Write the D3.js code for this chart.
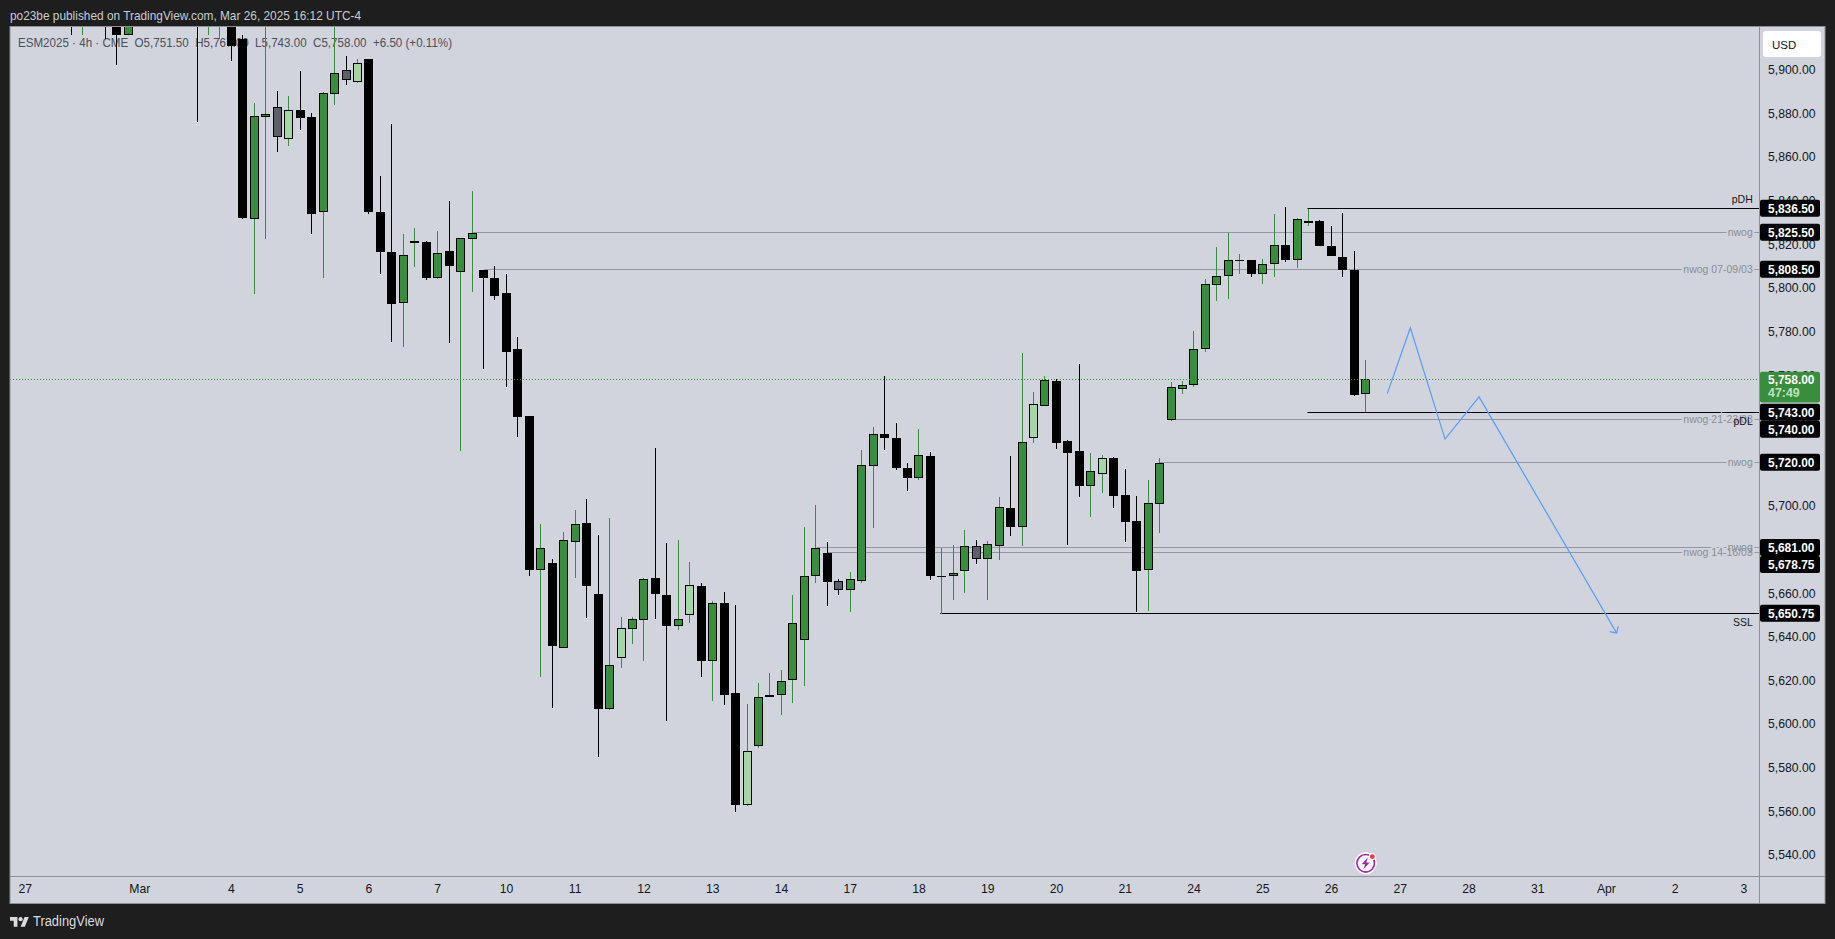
<!DOCTYPE html>
<html>
<head>
<meta charset="utf-8">
<script src="https://cdn.jsdelivr.net/npm/d3@7/dist/d3.min.js"></script>
<style>
html,body{margin:0;padding:0;background:#1e1e1e;overflow:hidden}
svg{display:block}
text{font-family:"Liberation Sans",Arial,sans-serif}
</style>
</head>
<body>
<svg id="c" width="1835" height="939"></svg>
<script>
// ---------- chart values ----------
const title = "po23be published on TradingView.com, Mar 26, 2025 16:12 UTC-4";
const legendText = "ESM2025 · 4h · CME  O5,751.50  H5,767.00  L5,743.00  C5,758.00  +6.50 (+0.11%)";
const currency = "USD";
const brand = "TradingView";
const countdown = "47:49";

// bars that reach into the top of the view (their bodies are estimated, only low ends can be seen)
const earlySlots  = [-15,-14,-12,-11,-10,-4,-3,-2,-1];
const earlyTones  = ["D","U","D","D","U","D","U","U","D"];
const earlyOpens  = [5950,5930,5940,5935,5915.75,5950,5935,5930,5935];
const earlyHighs  = [5960,5950,5945,5945,5945,5960,5955,5950,5940];
const earlyLows   = [5915.75,5916,5914.25,5902.25,5915.75,5876.25,5915.75,5914.25,5904.25];
const earlyCloses = [5935,5945,5925,5916,5930,5935,5950,5945,5910.75];

// D black, U green, L light green, G grey
const tones = [
"D","U","U","G","L","D","D","U","U","G",
"L","D","D","D","U","U","D","U","D","U",
"U","D","D","D","D","D","U","D","U","U",
"D","D","U","L","U","U","D","D","U","L",
"D","U","D","D","L","U","U","U","U","U",
"U","D","G","U","U","U","D","D","D","U",
"D","U","U","U","G","U","U","D","U","L",
"U","D","D","D","U","L","D","D","D","U",
"U","U","U","U","U","U","U","U","D","U",
"U","D","U","U","D","D","D","D","U"];
const opens = [
5914.25,5831.75,5878.25,5883,5868.25,5881.75,5878.25,5835,5888.75,5899.75,
5894.5,5905,5835,5816.5,5793.25,5820.5,5821,5804.75,5816.75,5807.5,
5822.25,5808.25,5804.5,5797.75,5772,5741.25,5670.5,5673.75,5635,5683.25,
5692.25,5659.75,5607,5630.5,5643.75,5647.5,5667,5659.25,5644.75,5650,
5663.5,5628.75,5655.5,5614.25,5562.75,5590,5612.25,5613.25,5620.25,5638.75,
5668,5678.5,5665.5,5661.25,5665.75,5718.5,5733,5731,5717.25,5713,
5722.75,5667.75,5667.75,5670,5681.5,5675.5,5681.75,5699,5690.5,5731,
5746,5757.5,5729.75,5725.25,5709,5714.5,5722,5705,5693,5670.5,
5701,5739.25,5753.75,5755.25,5771.75,5801.5,5805.25,5813,5813,5806.5,
5810.75,5819.5,5813,5830.5,5830.5,5819.25,5814,5808.25,5751.5];
const highs = [
5915.75,5884.75,5925,5890.5,5888,5899.5,5880.25,5890,5922,5906.5,
5905,5905,5851.5,5875.25,5824.75,5827.5,5821.5,5826.25,5840,5822.75,
5844.5,5808.25,5810,5806.5,5777.5,5741.25,5691.75,5675.5,5688.25,5698.25,
5703.25,5686.75,5694.5,5649.25,5649.25,5667,5726.75,5683,5684.5,5674.5,
5664.75,5656.25,5660.75,5654.75,5609.25,5618.75,5623.5,5624.75,5659,5690.5,
5700.5,5683.5,5666.5,5669.75,5725.5,5736.25,5759.75,5738,5719.75,5735.5,
5724.75,5680.75,5682.25,5689,5684.5,5683.75,5704,5723,5770.25,5752.25,
5759.75,5758.25,5730.25,5765.25,5724.25,5723.25,5722.5,5717,5704.75,5712,
5722,5757,5757.5,5780.25,5804.25,5818.75,5825.25,5815.75,5813,5813.25,
5834,5837.25,5832,5836.25,5831.25,5828.5,5834.5,5817,5767];
const lows = [
5831.75,5797.25,5822.5,5862.5,5865.25,5872.25,5824.5,5804.75,5884,5893.25,
5893.75,5833.75,5806.5,5775,5772.75,5809.75,5803.5,5804.25,5774.5,5725,
5798.25,5763,5794.25,5754.75,5731.5,5667.75,5621.75,5607.5,5634.75,5666.75,
5648.75,5584.75,5606.25,5625.75,5636.5,5628.75,5648.25,5601.5,5643,5646.5,
5621.75,5610.75,5608.5,5559.5,5562.25,5589,5612.25,5604,5609.75,5617.5,
5664.5,5654.25,5659,5651.25,5664.5,5689.75,5725.5,5716.5,5707,5711.75,
5666.25,5650.5,5657,5660.25,5673.25,5657,5675,5686,5681.75,5728.75,
5746,5726,5682.25,5704.25,5694.75,5706,5699.25,5683.5,5651.25,5652,
5687.75,5738.75,5751.5,5754.75,5770.75,5794,5795,5806.5,5805,5802,
5805,5812,5809.25,5828.5,5819,5814.5,5805,5750.25,5743];
const closes = [
5832.25,5878.75,5879.75,5869,5881.5,5877.75,5833.75,5889.25,5898.5,5895.25,
5903,5835,5816.25,5792.5,5815,5821.5,5804.75,5816,5810.25,5822.75,
5825,5804.75,5796.5,5770.75,5741,5670.75,5680.75,5636,5684.25,5691.75,
5663.5,5607,5627,5644,5648,5666.5,5659.5,5644.75,5648,5663.75,
5628.75,5655.5,5613.5,5563,5587.5,5612.25,5613.25,5619.75,5646.25,5667.75,
5680.75,5665.25,5661.25,5666.5,5718.75,5733,5731,5717.25,5713,5723.25,
5667.75,5667.75,5669.25,5681.5,5675.5,5682.5,5699.5,5690.5,5729.25,5746.75,
5757.75,5729,5724.5,5709,5716,5722,5704.75,5692.5,5670,5701.25,
5719.75,5754.5,5755.5,5772,5801.75,5805.5,5812.75,5813,5806.5,5811,
5819.5,5813,5831.5,5830.5,5819,5814.5,5808,5751,5758];

const priceTicks = [5540,5560,5580,5600,5620,5640,5660,5680,5700,5720,5740,5760,5780,5800,5820,5840,5860,5880,5900];
const dateSlots  = [-19,-9,-1,5,11,17,23,29,35,41,47,53,59,65,71,77,83,89,95,101,107,113,119,125,131];
const dateLabels = ["27","Mar","4","5","6","7","10","11","12","13","14","17","18","19","20","21","24","25","26","27","28","31","Apr","2","3"];

const levelPrices = [5836.5,5825.5,5808.5,5743,5740,5720,5681,5678.75,5650.75];
const levelNames  = ["pDH","nwog","nwog 07-09/03","pDL","nwog 21-23/03","nwog","nwog","nwog 14-16/03","SSL"];
const levelStarts = [92.95,20.1,21.1,92.95,81.1,80.1,50.1,51.1,60.9];
const levelMajor  = [true,false,false,true,false,false,false,false,true];

const lastPrice = 5758;
const pathSlots  = [99.92,101.93,104.96,107.93,119.94];
const pathPrices = [5751.5,5781.7,5730.65,5750,5641.7];

// ---------- geometry and colours ----------
const W=1835,H=939;
const panel={l:10,t:26.5,r:1825,b:903.5}, axisX=1759.5, axisY=876.5;
const BG="#d1d4dc",DARK="#1e1e1e",LINE="#8d9097",GREEN="#388e3c",LIGHT="#a5d6a7",GREY="#5d606b",GREYLINE="#9598a1",BLUE="#5b9cf6",INK="#131722";
const toneFill={D:"#000000",U:GREEN,L:LIGHT,G:GREY};
const toneWick={D:"#000000",U:GREEN,L:GREEN,G:"#000000"};

const x=d3.scaleLinear().domain([0,98]).range([242.4,1365.3]);
const y=d3.scaleLinear().domain([5640,5900]).range([636.8,69.8]);

const svg=d3.select("#c");
svg.append("rect").attr("width",W).attr("height",H).attr("fill",DARK);
svg.append("rect").attr("x",panel.l).attr("y",panel.t).attr("width",panel.r-panel.l).attr("height",panel.b-panel.t)
  .attr("fill",BG).attr("stroke",LINE).attr("stroke-width",1);
svg.append("defs").append("clipPath").attr("id","plot").append("rect")
  .attr("x",panel.l+.5).attr("y",panel.t+.5).attr("width",axisX-panel.l-.5).attr("height",axisY-panel.t-.5);

svg.append("text").attr("x",10).attr("y",20).attr("fill","#c9ccd3").attr("font-size",13.5)
  .attr("textLength",351).attr("lengthAdjust","spacingAndGlyphs").text(title);
svg.append("text").attr("x",18).attr("y",46.5).attr("fill","#4c4f58").attr("font-size",13)
  .attr("textLength",434).attr("lengthAdjust","spacingAndGlyphs").attr("xml:space","preserve").text(legendText);

const plot=svg.append("g").attr("clip-path","url(#plot)");

// levels: lines, then a background strip behind each grey name, then the names
const lev=levelPrices.map((p,i)=>({p,name:levelNames[i],start:levelStarts[i],major:levelMajor[i]}));
plot.selectAll("line.lev").data(lev).join("line").attr("class","lev")
  .attr("x1",d=>x(d.start)).attr("x2",axisX).attr("y1",d=>Math.round(y(d.p))+.5).attr("y2",d=>Math.round(y(d.p))+.5)
  .attr("stroke",d=>d.major?"#000":GREYLINE).attr("stroke-width",1);
const labelY=d=>d.major?(d.name==="pDH"?y(d.p)-5:(y(d.p)+13)):y(d.p)+3.8;
plot.selectAll("text.levmask").data(lev.filter(d=>!d.major)).join("text").attr("class","levmask")
  .attr("x",1752.8).attr("text-anchor","end").attr("font-size",10.5).attr("y",labelY)
  .attr("fill",BG).attr("stroke",BG).attr("stroke-width",4).text(d=>d.name);
plot.selectAll("text.levname").data(lev.slice().sort((a,b)=>a.major-b.major)).join("text").attr("class","levname")
  .attr("x",1752.8).attr("text-anchor","end").attr("font-size",10.5).attr("y",labelY)
  .attr("fill",d=>d.major?INK:"#8a8d96").text(d=>d.name);

// candles
const rows=earlySlots.map((s,i)=>({s,t:earlyTones[i],o:earlyOpens[i],h:earlyHighs[i],l:earlyLows[i],c:earlyCloses[i]}))
  .concat(tones.map((t,i)=>({s:i,t,o:opens[i],h:highs[i],l:lows[i],c:closes[i]})));
const candles=plot.append("g");
candles.selectAll("line").data(rows).join("line")
  .attr("x1",d=>Math.round(x(d.s))+.5).attr("x2",d=>Math.round(x(d.s))+.5)
  .attr("y1",d=>y(d.h)).attr("y2",d=>y(d.l))
  .attr("stroke",d=>toneWick[d.t]).attr("stroke-width",1).attr("shape-rendering","crispEdges");
candles.selectAll("rect").data(rows).join("rect")
  .attr("x",d=>Math.round(x(d.s))+.5-3.9).attr("width",7.8)
  .attr("y",d=>y(Math.max(d.o,d.c))+.5)
  .attr("height",d=>Math.max(.2,Math.abs(y(d.o)-y(d.c))-1))
  .attr("fill",d=>toneFill[d.t]).attr("stroke","#000").attr("stroke-width",1).attr("shape-rendering","crispEdges");

// projected path
const pathPts=pathSlots.map((s,i)=>[x(s),y(pathPrices[i])]);
plot.append("path").attr("d",d3.line()(pathPts)).attr("fill","none").attr("stroke",BLUE).attr("stroke-width",1.2);
const tip=pathPts[pathPts.length-1];
plot.append("path").attr("d",`M${tip[0]-7},${tip[1]-1.5}L${tip[0]},${tip[1]}L${tip[0]+1.5},${tip[1]-7}`)
  .attr("fill","none").attr("stroke",BLUE).attr("stroke-width",1.2);

// last price line
plot.append("line").attr("x1",panel.l).attr("x2",axisX).attr("y1",Math.round(y(lastPrice))+.5).attr("y2",Math.round(y(lastPrice))+.5)
  .attr("stroke",GREEN).attr("stroke-width",1).attr("stroke-dasharray","1 2").attr("shape-rendering","crispEdges");

// separators
svg.append("line").attr("x1",axisX).attr("x2",axisX).attr("y1",panel.t).attr("y2",panel.b).attr("stroke",LINE);
svg.append("line").attr("x1",panel.l).attr("x2",panel.r).attr("y1",axisY).attr("y2",axisY).attr("stroke",LINE);

// axes
const yAxis=svg.append("g").attr("transform",`translate(${axisX},0)`)
  .call(d3.axisRight(y).tickValues(priceTicks).tickSize(0).tickPadding(8.5).tickFormat(d3.format(",.2f")));
yAxis.select(".domain").remove();
yAxis.selectAll("text").attr("font-size",12.2).attr("font-family","Liberation Sans").attr("fill",INK);
const xAxis=svg.append("g").attr("transform",`translate(0,${axisY})`)
  .call(d3.axisBottom(x).tickValues(dateSlots).tickSize(0).tickPadding(8).tickFormat((d)=>dateLabels[dateSlots.indexOf(d)]));
xAxis.select(".domain").remove();
xAxis.selectAll("text").attr("font-size",12.2).attr("font-family","Liberation Sans").attr("fill",INK);

// price tags, stacked downward where they would collide
const tagH=17;
let prev=-1e9;
const tags=levelPrices.map(p=>{let c=y(p); if(c<prev+tagH) c=prev+tagH; prev=c; return {p,c};});
const tagG=svg.append("g");
tagG.selectAll("rect").data(tags).join("rect")
  .attr("x",axisX+.5).attr("width",60).attr("y",d=>d.c-tagH/2).attr("height",tagH).attr("rx",2).attr("fill","#000");
tagG.selectAll("text").data(tags).join("text")
  .attr("x",1768).attr("y",d=>d.c+4.4).attr("font-size",12.4).attr("font-weight","bold")
  .attr("textLength",46.5).attr("lengthAdjust","spacingAndGlyphs").attr("fill","#fff").text(d=>d3.format(",.2f")(d.p));

// last price tag
const ly=y(lastPrice);
svg.append("rect").attr("x",axisX+.5).attr("width",60).attr("y",ly-7.7).attr("height",30.7).attr("rx",2).attr("fill",GREEN);
svg.append("text").attr("x",1768).attr("y",ly+4.4).attr("font-size",12.4).attr("font-weight","bold")
  .attr("textLength",46.5).attr("lengthAdjust","spacingAndGlyphs").attr("fill","#fff").text(d3.format(",.2f")(lastPrice));
svg.append("text").attr("x",1768).attr("y",ly+17.5).attr("font-size",12.4).attr("font-weight","bold").attr("fill","#bfe0c1").text(countdown);

// currency box
svg.append("rect").attr("x",1763).attr("y",31).attr("width",58).attr("height",26).attr("rx",3).attr("fill","#ffffff");
svg.append("text").attr("x",1772).attr("y",48.5).attr("font-size",11.5).attr("fill",INK).text(currency);

// footer logo
const logo=svg.append("g").attr("transform","translate(10,915) scale(.53)").attr("fill","#d9dbe0");
logo.append("path").attr("d","M14 22H7V11H0V4h14v18zM28 22h-8l7.5-18h8L28 22z");
logo.append("circle").attr("cx",20).attr("cy",8).attr("r",4);
svg.append("text").attr("x",33).attr("y",926).attr("font-size",14).attr("textLength",71).attr("lengthAdjust","spacingAndGlyphs").attr("fill","#d9dbe0").text(brand);

// purple badge
const badge=svg.append("g").attr("transform","translate(1365.7,863.3)");
badge.append("circle").attr("r",11).attr("fill","#fff");
badge.append("circle").attr("r",8.8).attr("fill","none").attr("stroke","#9c27b0").attr("stroke-width",1.6);
badge.append("path").attr("d","M2.2,-6 L-4,1 L-0.6,1 L-2.2,6 L4,-0.8 L0.6,-0.8 Z").attr("fill","#9c27b0");
badge.append("circle").attr("cx",6.7).attr("cy",-6.6).attr("r",3.4).attr("fill","#fff");
badge.append("circle").attr("cx",6.7).attr("cy",-6.6).attr("r",2.4).attr("fill","#f23645");
</script>
</body>
</html>
